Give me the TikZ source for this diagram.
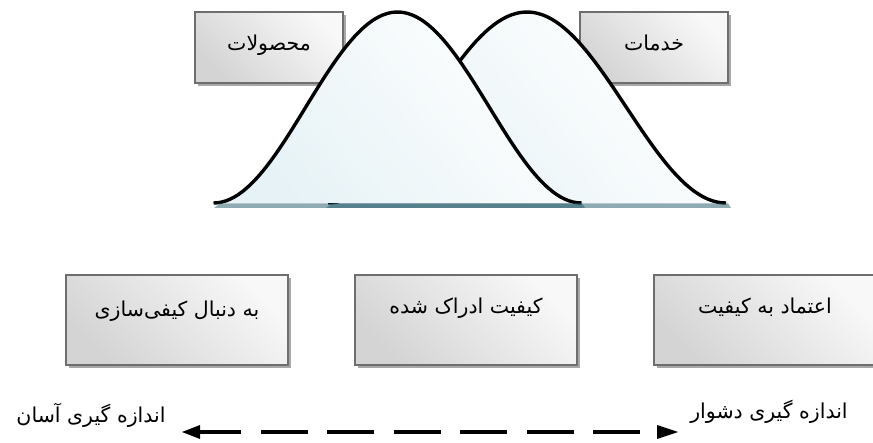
\documentclass[tikz,border=0pt]{standalone}
\usepackage{fontspec}
\usetikzlibrary{shadows,calc}
\TeXXeTstate=1
\newfontfamily\arabicfont[Script=Arabic]{DejaVu Sans}
\definecolor{boxline}{HTML}{6E6E6E}
\definecolor{boxlight}{HTML}{F8F8F8}
\definecolor{boxdark}{HTML}{D4D4D4}
\definecolor{shadowgray}{HTML}{A8A8A8}
\definecolor{bellblue}{HTML}{E6F2F6}
\definecolor{stripteal}{HTML}{1F5766}
\tikzset{
  qbox/.style={draw=boxline, line width=1.8pt, top color=boxlight, bottom color=boxdark,
    shading angle=-45, inner sep=0pt,
    drop shadow={opacity=1, fill=shadowgray, shadow xshift=3pt, shadow yshift=-3pt}},
  topbox/.style={qbox, minimum width=148pt, minimum height=71pt},
  lowbox/.style={qbox, minimum width=222pt, minimum height=90pt},
  fa/.style={font=\arabicfont\fontsize{20.5}{24}\selectfont, inner sep=0pt, anchor=base},
  bell/.style={top color=white, bottom color=bellblue, shading angle=-50},
  bellline/.style={draw=black, line width=3.4pt},
  strip/.style={fill=stripteal, fill opacity=0.5, draw=none},
  dashline/.style={line width=4.6pt, dash pattern=on 47pt off 19.5pt, dash phase=49.5pt}
}
\begin{document}
\begin{tikzpicture}[x=1pt,y=-1pt]
\useasboundingbox (0,0) rectangle (873,443);
\clip (0,0) rectangle (873,443);
\fill[white] (0,0) rectangle (873,443);
% top boxes
\node[topbox] (prod) at (269,47.5) {};
\node[topbox] (serv) at (654,47.5) {};
\node[fa] (prodt) at (269,51) {\beginR محصولات\endR};
\node[fa] (servt) at (654,51) {\beginR خدمات\endR};
% right bell (behind)
\path[bell] plot[domain=-199:199, samples=90] ({527+\x},{203-191*(1+cos(\x/199*180))/2}) -- cycle;
\draw[bellline] plot[domain=-199:199, samples=90] ({527+\x},{203-191*(1+cos(\x/199*180))/2});
% left bell (front)
\path[bell] plot[domain=-184:184, samples=90] ({397.5+\x},{203-191*(1+cos(\x/184*180))/2}) -- cycle;
\draw[bellline] plot[domain=-184:184, samples=90] ({397.5+\x},{203-191*(1+cos(\x/184*180))/2});
% base strips
\path[strip] (214,208) -- (220,203.5) -- (582,203.5) -- (585,208) -- cycle;
\path[strip] (326,208) -- (333,203.5) -- (728,203.5) -- (731,208) -- cycle;
% lower boxes
\node[lowbox] (seek) at (177,320) {};
\node[lowbox] (perc) at (466,320) {};
\node[lowbox] (trust) at (765,320) {};
\node[fa] (seekt) at (177,317) {\beginR به دنبال کیفی‌سازی\endR};
\node[fa] (perct) at (466,314) {\beginR کیفیت ادراک شده\endR};
\node[fa] (trustt) at (765,314) {\beginR اعتماد به کیفیت\endR};
% scale arrow
\coordinate (easy) at (182,432);
\coordinate (hard) at (678,432);
\coordinate (easyline) at (200,432);
\coordinate (hardline) at (657,432);
\draw[dashline] (hardline) -- (easyline);
\fill (easy) -- ($(easyline)+(0,-7)$) -- ($(easyline)+(0,7)$) -- cycle;
\fill (hard) -- ($(hardline)+(0,-7)$) -- ($(hardline)+(0,7)$) -- cycle;
\node[fa] (easyt) at (91,423) {\beginR اندازه گیری آسان\endR};
\node[fa] (hardt) at (769,419) {\beginR اندازه گیری دشوار\endR};
\end{tikzpicture}
\end{document}
